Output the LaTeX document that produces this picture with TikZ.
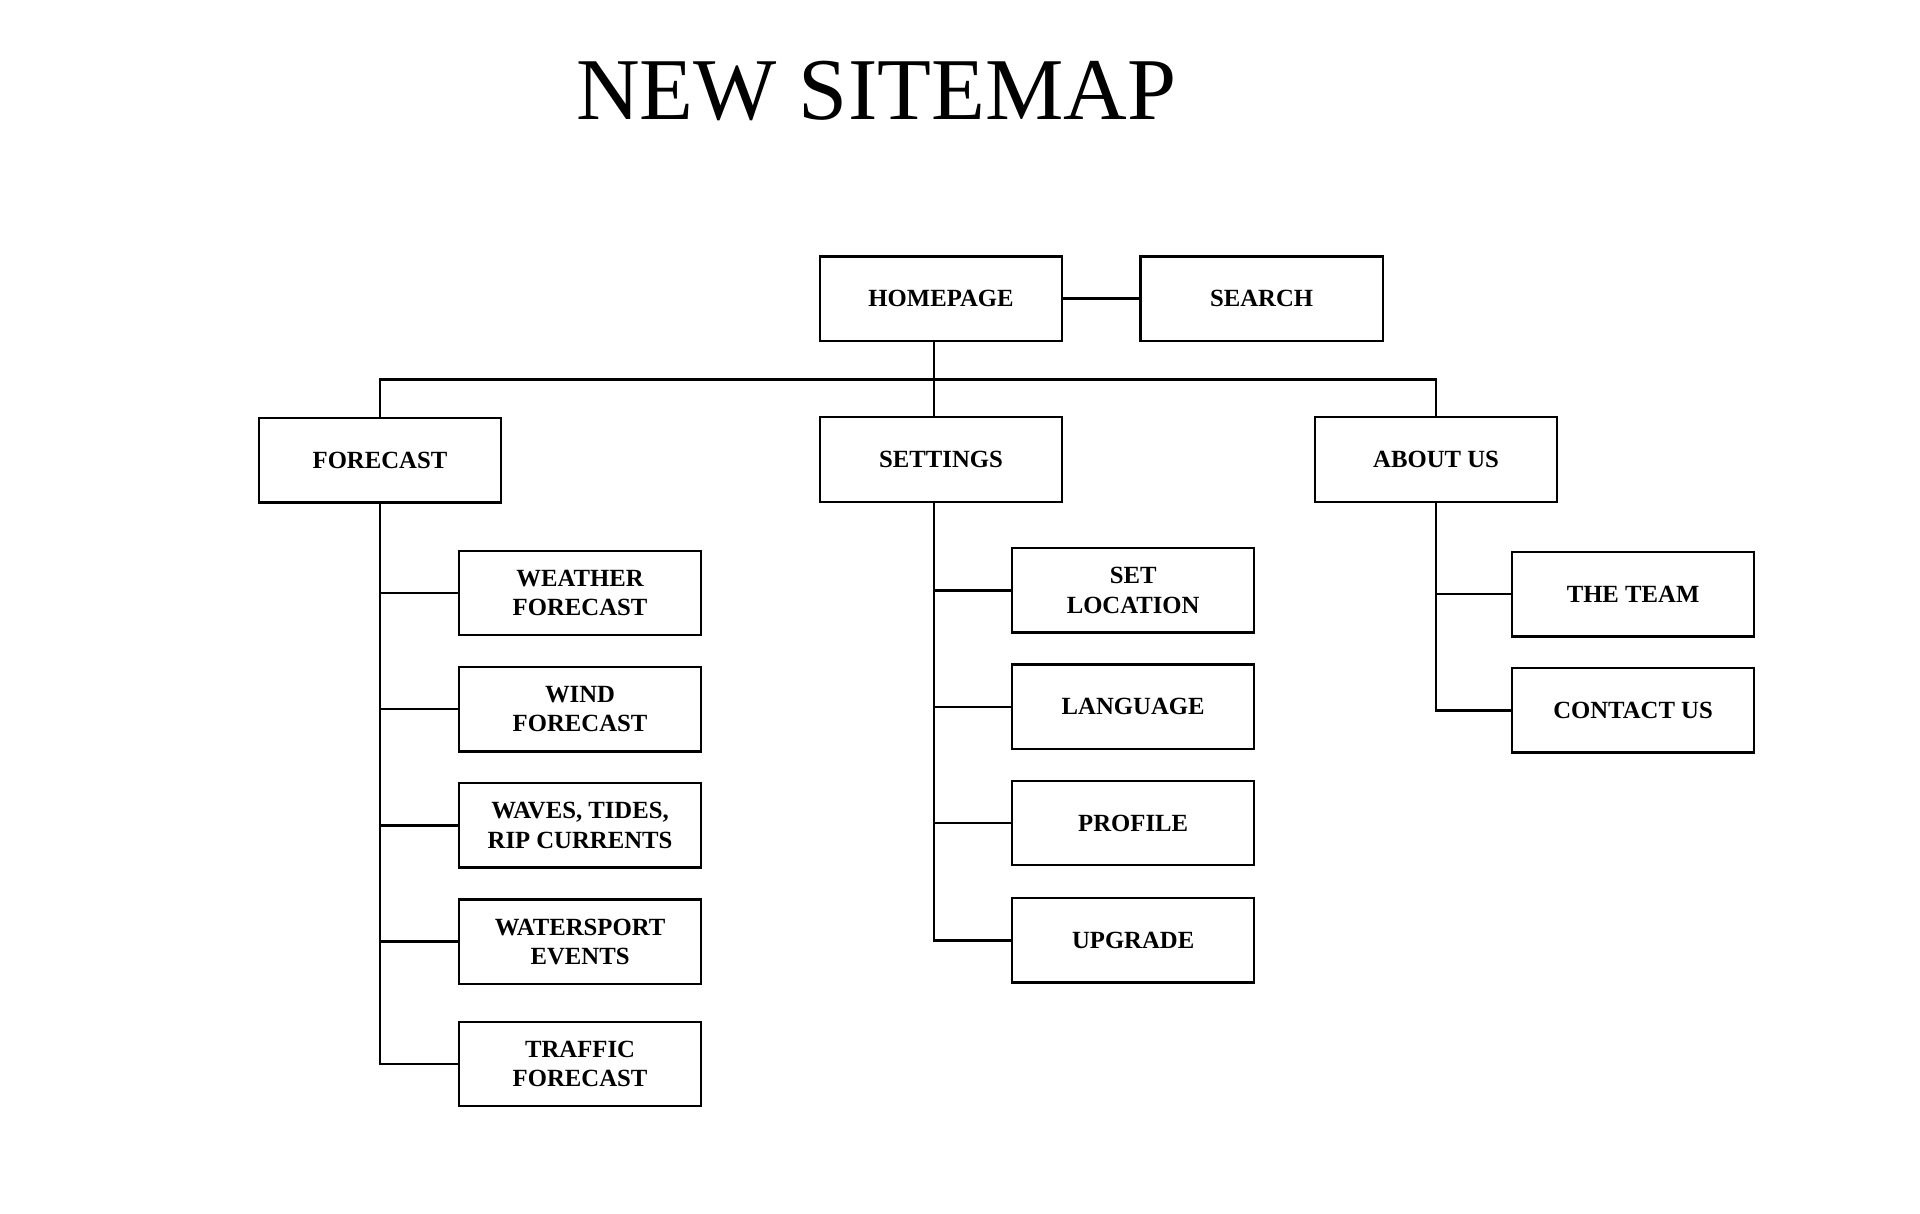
\documentclass[tikz,border=0pt]{standalone}
\usepackage{fontspec}
\setmainfont{Liberation Serif}

\tikzset{
  pagebox/.style={draw, line width=1.1pt, minimum width=3.96cm, minimum height=1.38cm,
    inner sep=0pt, align=center, font=\fontsize{11.5}{13.6}\selectfont\bfseries},
  link/.style={line width=1.1pt}
}

\begin{document}
\begin{tikzpicture}[x=0.02cm,y=-0.02cm]
  \fill[white] (0,0) rectangle (1569,991.3);
  \useasboundingbox (0,0) rectangle (1569,991.3);
  \node[anchor=base, font=\fontsize{41}{48}\selectfont] (title) at (716,98) {NEW SITEMAP};
  % top level
  \node[pagebox] (home) at (769,244) {HOMEPAGE};
  \node[pagebox] (search) at (1031,244) {SEARCH};
  \node[pagebox] (forecast) at (310.5,376) {FORECAST};
  \node[pagebox] (settings) at (769,375.5) {SETTINGS};
  \node[pagebox] (about) at (1173.5,375.5) {ABOUT US};
  % forecast pages
  \node[pagebox] (weather) at (474,484.5) {WEATHER\\FORECAST};
  \node[pagebox] (wind) at (474,579.5) {WIND\\FORECAST};
  \node[pagebox] (waves) at (474,674.5) {WAVES, TIDES,\\RIP CURRENTS};
  \node[pagebox] (events) at (474,769.5) {WATERSPORT\\EVENTS};
  \node[pagebox] (traffic) at (474,869.5) {TRAFFIC\\FORECAST};
  % settings pages
  \node[pagebox] (location) at (926,482.5) {SET\\LOCATION};
  \node[pagebox] (language) at (926,577.5) {LANGUAGE};
  \node[pagebox] (profile) at (926,672.5) {PROFILE};
  \node[pagebox] (upgrade) at (926,768.5) {UPGRADE};
  % about pages
  \node[pagebox] (team) at (1334.5,485.5) {THE TEAM};
  \node[pagebox] (contact) at (1334.5,580.5) {CONTACT US};
  % connectors
  \coordinate (bus) at (763,310);
  \coordinate (strunk) at ([xshift=-0.12cm]settings.south);
  \draw[link] (home) -- (search);
  \draw[link] (home.south -| bus) -- (settings.north -| bus);
  \draw[link] (forecast.north) |- (bus) -| (about.north);
  \draw[link] (forecast.south) |- (traffic.west);
  \foreach \p in {weather,wind,waves,events}
    \draw[link] (\p.west) -- (\p.west -| forecast.south);
  \draw[link] (strunk) |- (upgrade.west);
  \foreach \p in {location,language,profile}
    \draw[link] (\p.west) -- (\p.west -| strunk);
  \draw[link] (about.south) |- (contact.west);
  \draw[link] (team.west) -- (team.west -| about.south);
\end{tikzpicture}
\end{document}
